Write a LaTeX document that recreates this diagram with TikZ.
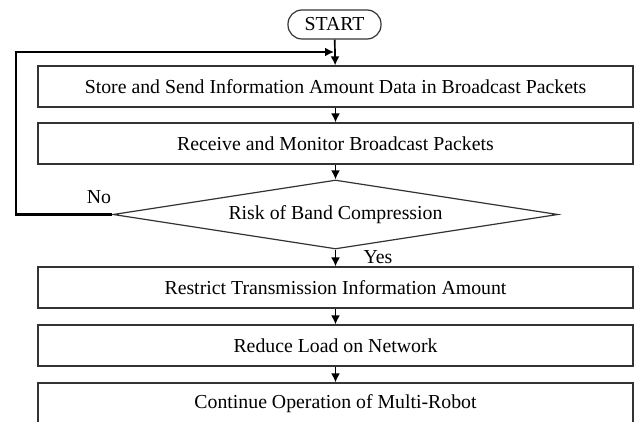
\documentclass[tikz,border=0pt]{standalone}
\usepackage{fontspec}
\setmainfont{Liberation Serif}
\usetikzlibrary{shapes.geometric,arrows.meta}
\begin{document}
\begin{tikzpicture}[x=1pt,y=-1pt,
  txt/.style={font=\fontsize{19.8}{22}\selectfont},
  procbox/.style={txt, draw=black!80, line width=1.2pt, minimum width=595pt, minimum height=41pt, inner sep=0pt},
  startbox/.style={txt, draw=black!80, line width=1.2pt, rounded corners=14pt, minimum width=93pt, minimum height=29pt, inner sep=0pt},
  decbox/.style={txt, draw=black!80, line width=1.2pt, diamond, shape aspect=6.45, minimum width=445pt, minimum height=69pt, inner sep=0pt},
  flow/.style={line width=1.7pt, -{Latex[length=9pt,width=9pt]}},
  fbline/.style={line width=2.4pt, -{Latex[length=9pt,width=9pt]}},
  lbl/.style={txt, inner sep=0pt}
]
\clip (0,0) rectangle (634,422);
\node[startbox] (start) at (334.5,24.5) {START};
\node[procbox] (b1) at (335.5,86.5) {Store and Send Information Amount Data in Broadcast Packets};
\node[procbox] (b2) at (335.5,143.5) {Receive and Monitor Broadcast Packets};
\node[decbox] (dec) at (335.5,214.5) {Risk of Band Compression};
\node[procbox] (b3) at (335.5,287.5) {Restrict Transmission Information Amount};
\node[procbox] (b4) at (335.5,345.5) {Reduce Load on Network};
\node[procbox] (b5) at (335.5,403.5) {Continue Operation of Multi-Robot};
\node[lbl] (no) at (99,197) {No};
\node[lbl] (yes) at (378,257) {Yes};
\coordinate (fbl) at (16,52);
\coordinate (fb) at (334,52);
\draw[flow] (start) -- (b1);
\draw[flow] (b1) -- (b2);
\draw[flow] (b2) -- (dec);
\draw[flow] (dec) -- (b3);
\draw[flow] (b3) -- (b4);
\draw[flow] (b4) -- (b5);
\draw[fbline] (dec.west) -| (fbl) -- (fb);
\end{tikzpicture}
\end{document}
